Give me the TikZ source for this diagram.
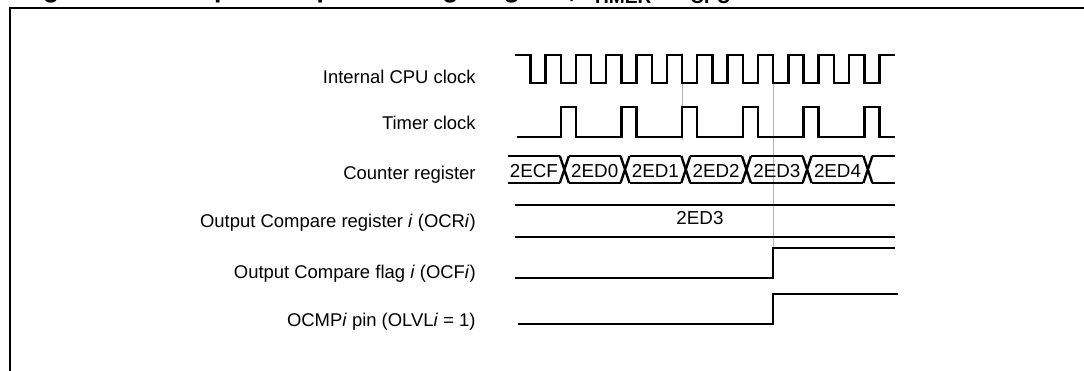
\documentclass[tikz,border=0pt]{standalone}
\usepackage{fontspec}
\setmainfont{Liberation Sans}
\usetikzlibrary{positioning}
\definecolor{tdgrey}{HTML}{B4B4B4}

\begin{document}
\begin{tikzpicture}[x=0.02cm, y=-0.02cm,
    sig/.style={line width=1.35pt},
    frame/.style={line width=1.4pt},
    guide/.style={draw=tdgrey, line width=0.5pt},
    lbl/.style={anchor=base east, inner sep=0pt, font=\fontsize{10.5}{12}\selectfont},
    val/.style={anchor=base, inner sep=0pt, font=\fontsize{10.7}{12}\selectfont}
  ]
  \useasboundingbox (0,0) rectangle (1084,371);

  % caption, cut by the page
  \node[anchor=base west, inner sep=0pt, font=\bfseries\fontsize{15}{18}\selectfont] (title) at (19.4,-2.5)
    {Figure 101. Output compare timing diagram, f\raisebox{-3.7pt}{\fontsize{10.9}{12}\selectfont TIMER} = f\raisebox{-3.7pt}{\fontsize{10.9}{12}\selectfont CPU}/2};
  \draw[frame] (1100,8) -- (10,8) -- (10,390);

  % signal names
  \node[lbl] (lcpu) at (476,83.3) {Internal CPU clock};
  \node[lbl] (ltmr) at (476,129.3) {Timer clock};
  \node[lbl] (lcnt) at (476,179.5) {Counter register};
  \node[lbl] (locr) at (476,227.7) {Output Compare register \textit{i} (OCR\textit{i})};
  \node[lbl] (locf) at (476,278.3) {Output Compare flag \textit{i} (OCF\textit{i})};
  \node[lbl] (locmp) at (476,326) {OCMP\textit{i} pin (OLVL\textit{i} = 1)};

  % guides
  \draw[guide] (682.25,53) -- (682.25,140);
  \draw[guide] (773.3,82) -- (773.3,248);

  % clocks
  \draw[sig] (515,55) \foreach \k in {0,...,11} { -- ({530.5+\k*30.35},55) -- ++(0,28) -- ++(15,0) -- ++(0,-28) } -- (895,55);
  \draw[sig] (516.7,137.3) \foreach \k in {1,3,...,11} { -- ({530.5+\k*30.35},137.3) -- ++(0,-30) -- ++(15,0) -- ++(0,30) } -- (895,137.3);

  % counter
  \foreach \k in {1,3,...,11} {
    \draw[sig] ({529.5+\k*30.35},156) -- ++(9,27) ({529.5+\k*30.35},183) -- ++(9,-27);
  }
  \foreach \a/\b/\v [count=\i] in {508/559.85/2ECF, 568.85/620.55/2ED0, 629.55/681.25/2ED1,
      690.25/741.95/2ED2, 750.95/802.65/2ED3, 811.65/863.35/2ED4} {
    \draw[sig] (\a,156) -- (\b,156) (\a,183) -- (\b,183);
    \node[val] (cnt\i) at ({(\a+\b)/2},177.5) {\v};
  }
  \draw[sig] (872.35,156) -- (895,156) (872.35,183) -- (895,183);

  % compare register
  \draw[sig] (515,205) -- (895,205) (515,237.3) -- (895,237.3);
  \node[val] (ocr) at (700,224) {2ED3};

  % flag and pin
  \draw[sig] (515,277.7) -- (773.3,277.7) -- (773.3,248.3) -- (895,248.3);
  \draw[sig] (518,324) -- (773.3,324) -- (773.3,294.3) -- (898,294.3);
\end{tikzpicture}
\end{document}
